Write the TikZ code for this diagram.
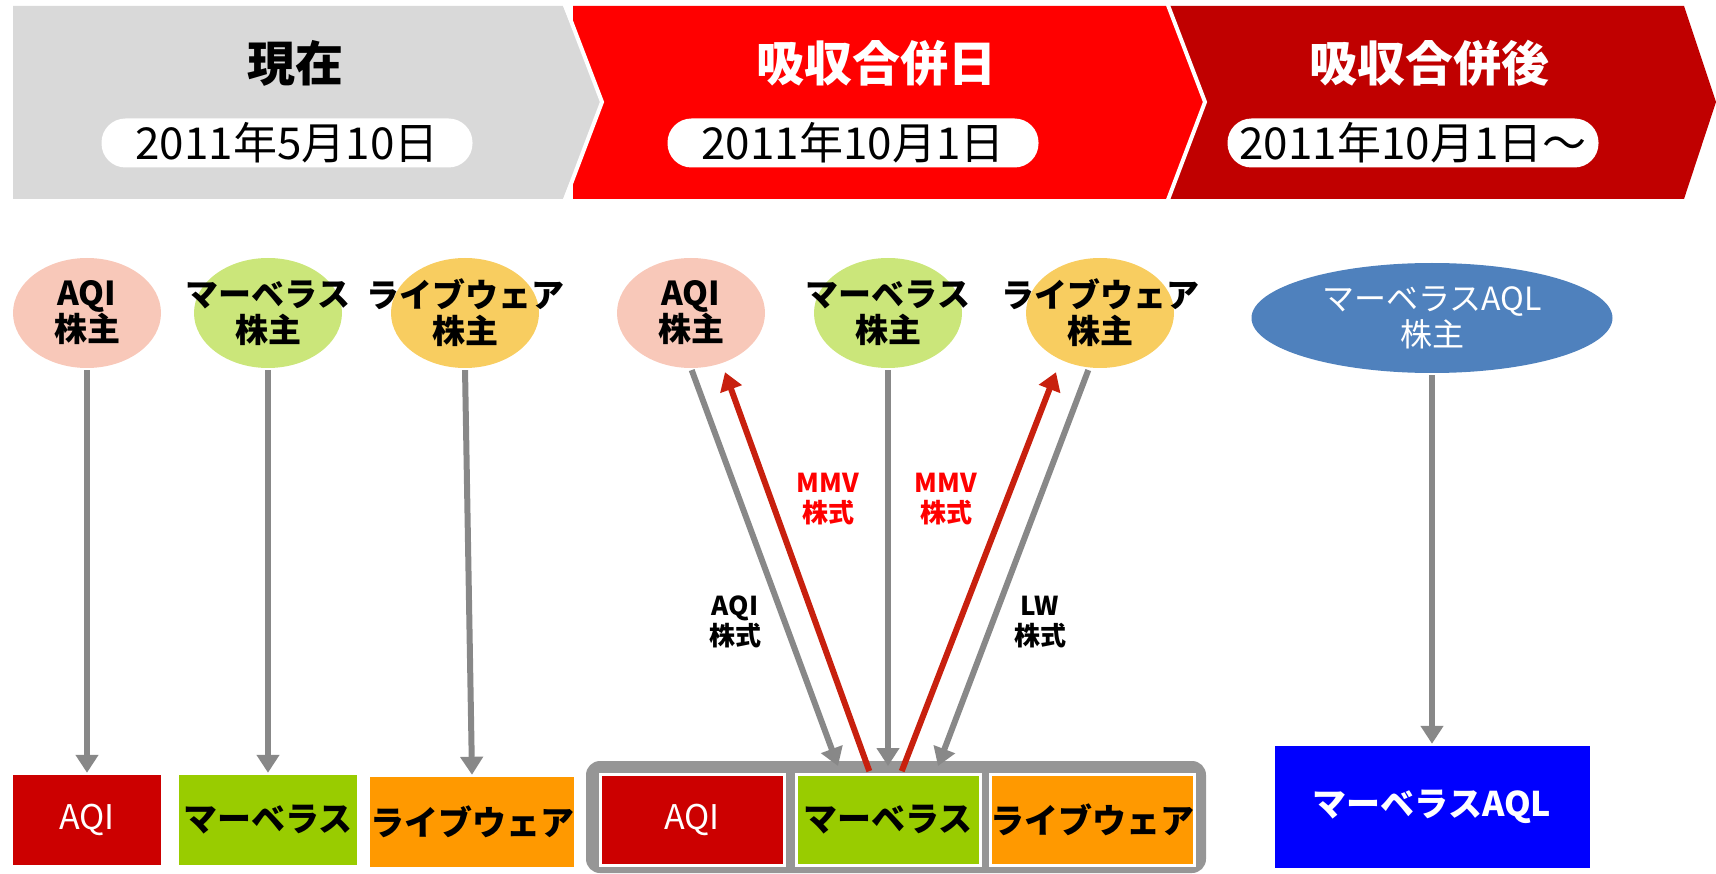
\documentclass[tikz,border=0pt]{standalone}
\usepackage{fontspec}
\setmainfont{Noto Sans CJK JP}
\usetikzlibrary{shapes,arrows.meta}
\definecolor{bandgray}{HTML}{D9D9D9}
\definecolor{bandred}{HTML}{FF0000}
\definecolor{banddark}{HTML}{C00000}
\definecolor{pinkfill}{HTML}{F8C8B9}
\definecolor{limefill}{HTML}{CBE67A}
\definecolor{sandfill}{HTML}{F8CD60}
\definecolor{bluefill}{HTML}{4F81BD}
\definecolor{aqired}{HTML}{CC0000}
\definecolor{mmvgreen}{HTML}{99CC00}
\definecolor{lworange}{HTML}{FF9900}
\definecolor{arrgray}{HTML}{888888}
\definecolor{arrred}{HTML}{C8200E}
\definecolor{grpgray}{HTML}{969696}
\tikzstyle{line} = [draw=arrgray, line width=6pt, -{Triangle[width=22pt,length=18pt]}, shorten <=2pt]
\tikzstyle{mline} = [line, draw=arrred]
\tikzstyle{title} = [font=\fontsize{48}{50}\selectfont\bfseries]
\tikzstyle{pill} = [rectangle, rounded corners=24pt, fill=white, minimum width=371pt, minimum height=49pt, inner sep=0pt, font=\fontsize{44}{46}\selectfont]
\tikzstyle{elli} = [ellipse, minimum width=148pt, minimum height=110pt, inner sep=0pt]
\tikzstyle{etext} = [align=center, font=\fontsize{33}{36}\selectfont\bfseries]
\tikzstyle{block} = [rectangle, minimum height=90pt, inner sep=0pt, font=\fontsize{34}{36}\selectfont\bfseries]
\tikzstyle{blockw} = [block, draw=white, line width=3pt, minimum height=91pt]
\tikzstyle{lbl} = [align=center, font=\fontsize{26}{30}\selectfont\bfseries]
\begin{document}
\begin{tikzpicture}[x=1pt, y=-1pt]
    \useasboundingbox (0,0) rectangle (1716,874);
    \fill[banddark] (1166,6) -- (1684,6) -- (1716,102) -- (1684,199) -- (1166,199) -- cycle;
    \fill[bandred] (573,6) -- (1166,6) -- (1205,102) -- (1166,199) -- (573,199) -- cycle;
    \draw[white, line width=4pt] (1166,0) -- (1205,102) -- (1166,205);
    \fill[bandgray] (13,6) -- (563,6) -- (602,102) -- (563,199) -- (13,199) -- cycle;
    \draw[white, line width=4pt] (563,0) -- (602,102) -- (563,205);
    \node [title] (tt0) at (295,63) {現在};
    \node [title, text=white] (tt1) at (876,63) {吸収合併日};
    \node [title, text=white] (tt2) at (1429,63) {吸収合併後};
    \node [pill] (dt0) at (287,143) {2011年5月10日};
    \node [pill] (dt1) at (853,143) {2011年10月1日};
    \node [pill] (dt2) at (1413,143) {2011年10月1日～};
    \node [elli, fill=pinkfill] (sh0) at (87,313) {};
    \node [etext] at (sh0) {AQI\\株主};
    \node [elli, fill=limefill] (sh1) at (268,313) {};
    \node [etext] at (sh1) {マーベラス\\株主};
    \node [elli, fill=sandfill] (sh2) at (465,313) {};
    \node [etext] at (sh2) {ライブウェア\\株主};
    \node [elli, fill=pinkfill] (msh0) at (691,313) {};
    \node [etext] at (msh0) {AQI\\株主};
    \node [elli, fill=limefill] (msh1) at (888,313) {};
    \node [etext] at (msh1) {マーベラス\\株主};
    \node [elli, fill=sandfill] (msh2) at (1100,313) {};
    \node [etext] at (msh2) {ライブウェア\\株主};
    \node [elli, fill=bluefill, minimum width=361pt] (rsh) at (1432,318) {};
    \node [etext, text=white, font=\fontsize{32}{36}\selectfont] at (rsh) {マーベラスAQL\\株主};
    \node [block, fill=aqired, text=white, minimum width=148pt, font=\fontsize{34}{36}\selectfont] (co0) at (87,820) {AQI};
    \node [block, fill=mmvgreen, minimum width=178pt] (co1) at (268,820) {マーベラス};
    \node [block, fill=lworange, minimum width=194pt] (co2) at (472,822) {ライブウェア};
    \fill[grpgray, rounded corners=14pt] (586,761) rectangle (1206,873);
    \node [blockw, fill=aqired, text=white, minimum width=184pt, font=\fontsize{34}{36}\selectfont] (mco0) at (692,820) {AQI};
    \node [blockw, fill=mmvgreen, minimum width=184pt] (mco1) at (888,820) {マーベラス};
    \node [blockw, fill=lworange, minimum width=198pt] (mco2) at (1092,820) {ライブウェア};
    \node [block, fill=blue, text=white, minimum width=315pt, minimum height=122pt] (bco) at (1432,807) {マーベラスAQL};
    \node [lbl, text=red] (lb0) at (828,499) {MMV\\株式};
    \node [lbl, text=red] (lb1) at (946,499) {MMV\\株式};
    \node [lbl] (lb2) at (735,622) {AQI\\株式};
    \node [lbl] (lb3) at (1040,622) {LW\\株式};
    \path [line] (sh0.south) -- ([yshift=2pt]co0.north);
    \path [line] (sh1.south) -- ([yshift=2pt]co1.north);
    \path [line] (sh2.south) -- ([yshift=2pt]co2.north);
    \path [line] (msh0.south) -- ([xshift=-50pt,yshift=7pt]mco1.north);
    \path [line] (msh1.south) -- ([yshift=7pt]mco1.north);
    \path [line] ([xshift=-11pt]msh2.south) -- ([xshift=50pt,yshift=7pt]mco1.north);
    \path [mline] ([xshift=-18pt]mco1.north) -- ([xshift=34pt,yshift=-4pt]msh0.south);
    \path [mline] ([xshift=13pt]mco1.north) -- ([xshift=-44pt,yshift=-4pt]msh2.south);
    \path [line] (rsh.south) -- ([yshift=2pt]bco.north);
\end{tikzpicture}
\end{document}
